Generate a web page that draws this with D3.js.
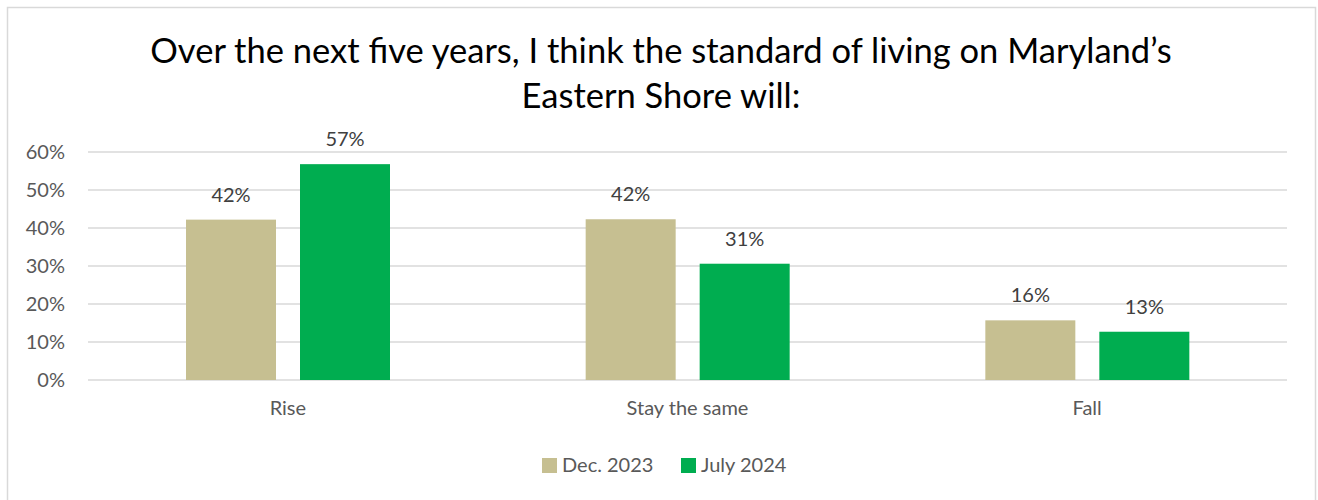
<!DOCTYPE html>
<html>
<head>
<meta charset="utf-8">
<script src="https://cdn.jsdelivr.net/npm/d3@7/dist/d3.min.js"></script>
<style>
  html, body { margin: 0; padding: 0; background: #ffffff; }
  svg { display: block; font-family: Lato, "Open Sans", sans-serif; }
</style>
</head>
<body>
<svg id="chart" width="1318" height="500"></svg>
<script>
// Survey answers, two waves
const categories = ["Rise", "Stay the same", "Fall"];
const seriesNames = ["Dec. 2023", "July 2024"];
const dec2023 = [0.422, 0.423, 0.157];
const july2024 = [0.568, 0.306, 0.127];
const yTicks = [0, 0.1, 0.2, 0.3, 0.4, 0.5, 0.6];
const titleLines = [
  "Over the next five years, I think the standard of living on Maryland\u2019s",
  "Eastern Shore will:"
];
const colors = ["#c6bf91", "#00ad50"];

const svg = d3.select("#chart");
const W = 1318, H = 500;
const margin = { left: 88, right: 31, top: 152, bottom: 120 };
const plotW = W - margin.left - margin.right;
const plotH = H - margin.top - margin.bottom;
const labelSize = "20px";

// outer frame
svg.append("rect")
  .attr("x", 7.5).attr("y", 7.5)
  .attr("width", 1308).attr("height", 500)
  .attr("fill", "#fff").attr("stroke", "#d9d9d9").attr("stroke-width", 1.5);

// title
const title = svg.append("g");
titleLines.forEach((t, i) => {
  title.append("text")
    .attr("x", 661).attr("y", i === 0 ? 63 : 108)
    .attr("text-anchor", "middle")
    .attr("fill", "#000")
    .style("font-size", "32px")
    .text(t);
});
// fit first title line to its intended width
const first = title.select("text").node();
const fs = 32 * 1022 / first.getComputedTextLength();
title.selectAll("text").style("font-size", fs + "px");

const g = svg.append("g").attr("transform", `translate(${margin.left},${margin.top})`);

const x0 = d3.scaleBand().domain(categories).range([0, plotW]).paddingInner(0).paddingOuter(0);
const x1 = d3.scaleBand().domain(seriesNames).range([98, 302]).paddingInner(24 / 114).paddingOuter(0);
const y = d3.scaleLinear().domain([0, 0.6]).range([plotH, 0]);

// gridlines
g.append("g")
  .selectAll("line").data(yTicks).join("line")
  .attr("x1", 0).attr("x2", plotW)
  .attr("y1", d => y(d)).attr("y2", d => y(d))
  .attr("stroke", "#d9d9d9").attr("stroke-width", 1.5);

// y axis labels
const yAxis = g.append("g")
  .call(d3.axisLeft(y).tickValues(yTicks).tickFormat(d3.format(".0%")).tickSize(0).tickPadding(23));
yAxis.select(".domain").remove();
yAxis.selectAll("text").attr("fill", "#595959").style("font-size", labelSize).style("font-family", "Lato, sans-serif");

// x axis labels
const xAxis = g.append("g").attr("transform", `translate(0,${plotH})`)
  .call(d3.axisBottom(x0).tickSize(0).tickPadding(21));
xAxis.select(".domain").remove();
xAxis.selectAll("text").attr("fill", "#595959").style("font-size", labelSize).style("font-family", "Lato, sans-serif");

const series = [dec2023, july2024];
const fmt = d3.format(".0%");
const groups = g.selectAll(".cat").data(categories).join("g")
  .attr("transform", d => `translate(${x0(d)},0)`);

groups.each(function(cat, ci) {
  const grp = d3.select(this);
  seriesNames.forEach((s, si) => {
    const v = series[si][ci];
    grp.append("rect")
      .attr("x", x1(s)).attr("width", x1.bandwidth())
      .attr("y", y(v)).attr("height", y(0) - y(v))
      .attr("fill", colors[si]);
    grp.append("text")
      .attr("x", x1(s) + x1.bandwidth() / 2)
      .attr("y", y(v) - 18)
      .attr("text-anchor", "middle")
      .attr("fill", "#404040")
      .style("font-size", labelSize)
      .text(fmt(v));
  });
});

// legend
const legend = svg.append("g").attr("transform", "translate(542,457)");
seriesNames.forEach((s, i) => {
  const item = legend.append("g").attr("transform", `translate(${i === 0 ? 0 : 139},0)`);
  item.append("rect").attr("width", 15).attr("height", 15).attr("y", 1).attr("fill", colors[i]);
  item.append("text").attr("x", 20).attr("y", 15)
    .attr("fill", "#595959").style("font-size", labelSize).text(s);
});
</script>
</body>
</html>
